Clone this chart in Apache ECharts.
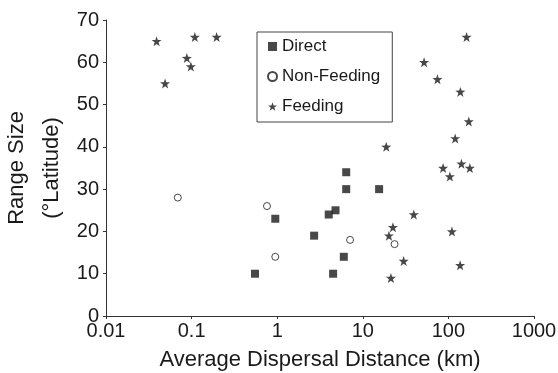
<!DOCTYPE html>
<html>
<head>
<meta charset="utf-8">
<script src="https://cdn.jsdelivr.net/npm/echarts@6/dist/echarts.min.js"></script>
<style>
  html, body { margin: 0; padding: 0; background: #fff; }
  #chart { width: 558px; height: 373px; }
</style>
</head>
<body>
<div id="chart"></div>
<script>
// values
const xTickLabels = ["0.01", "0.1", "1", "10", "100", "1000"];

const directX = [0.55, 0.95, 2.7, 4.0, 4.8, 6.0, 4.5, 6.4, 6.4, 15.5];
const directY = [10, 23, 19, 24, 25, 14, 10, 30, 34, 30];

const nonFeedingX = [0.069, 0.76, 0.95, 7.1, 23.5];
const nonFeedingY = [28, 26, 14, 18, 17];

const feedingX = [0.039, 0.049, 0.088, 0.098, 0.109, 0.196, 163, 52, 74.5, 138, 173, 120,
    18.8, 86.7, 142, 178, 104, 39.4, 22.5, 20.2, 110, 30, 137, 21.3];
const feedingY = [65, 55, 61, 59, 66, 66, 66, 60, 56, 53, 46, 42,
    40, 35, 36, 35, 33, 24, 21, 19, 20, 13, 12, 9];

const pairs = (xs, ys) => xs.map((x, i) => [x, ys[i]]);

const star = "path://M0,-10L2.35,-3.24L9.51,-3.09L3.8,1.24L5.88,8.09L0,4L-5.88,8.09L-3.8,1.24L-9.51,-3.09L-2.35,-3.24Z";
const ink = "#1a1a1a";
const font = "Liberation Sans";

const chart = echarts.init(document.getElementById("chart"));
chart.setOption({
    animation: false,
    textStyle: { fontFamily: font, color: ink },
    grid: { left: 106, right: 24, top: 20, bottom: 57, outerBoundsMode: "none" },
    legend: {
        orient: "vertical",
        left: 257,
        top: 32,
        padding: [6, 12, 7, 10],
        borderColor: "#444",
        borderWidth: 1,
        itemWidth: 9,
        itemHeight: 9,
        itemGap: 13,
        textStyle: { fontFamily: font, fontSize: 17, color: ink },
        data: ["Direct", "Non-Feeding", "Feeding"],
    },
    xAxis: {
        type: "log",
        logBase: 10,
        min: 0.01,
        max: 1000,
        name: "Average Dispersal Distance (km)",
        nameLocation: "middle",
        nameGap: 33,
        nameMoveOverlap: false,
        nameTextStyle: { fontSize: 22, color: ink },
        axisLine: { lineStyle: { color: "#333", width: 1 } },
        axisTick: { length: 3, lineStyle: { color: "#333" } },
        axisLabel: {
            fontSize: 20,
            color: ink,
            margin: 5,
            formatter: (v) => xTickLabels[Math.round(Math.log10(v)) + 2],
        },
        splitLine: { show: false },
    },
    yAxis: {
        type: "value",
        min: 0,
        max: 70,
        interval: 10,
        name: "Range Size\n(°Latitude)",
        nameLocation: "middle",
        nameRotate: 90,
        nameGap: 37,
        nameMoveOverlap: false,
        nameTextStyle: { fontSize: 22, color: ink, lineHeight: 35 },
        axisLine: { show: true, lineStyle: { color: "#333", width: 1 } },
        axisTick: { show: true, length: 3, lineStyle: { color: "#333" } },
        axisLabel: { fontSize: 20, color: ink, margin: 7 },
        splitLine: { show: false },
    },
    series: [
        {
            name: "Direct",
            type: "scatter",
            symbol: "rect",
            symbolSize: 8,
            itemStyle: { color: ink },
            data: pairs(directX, directY),
        },
        {
            name: "Non-Feeding",
            type: "scatter",
            symbol: "circle",
            symbolSize: 7,
            itemStyle: { color: "#fff", borderColor: ink, borderWidth: 1 },
            data: pairs(nonFeedingX, nonFeedingY),
        },
        {
            name: "Feeding",
            type: "scatter",
            symbol: star,
            symbolSize: 10,
            itemStyle: { color: ink },
            data: pairs(feedingX, feedingY),
        },
    ],
});
</script>
</body>
</html>
